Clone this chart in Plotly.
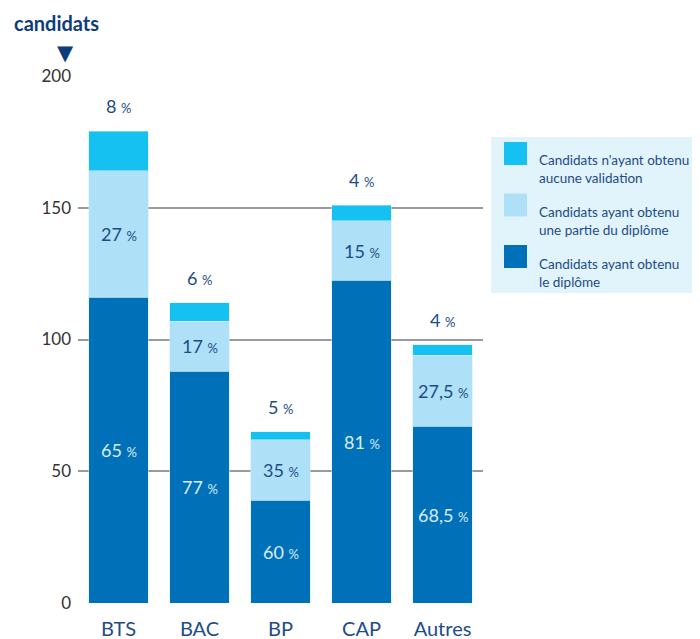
import plotly.graph_objects as go

categories = ["BTS", "BAC", "BP", "CAP", "Autres"]
diplome = [116, 88, 39, 122.5, 67]
partie = [48, 19, 23, 22.5, 27]
aucune = [15, 7, 3, 6, 4]
pct_diplome = ["65", "77", "60", "81", "68,5"]
pct_partie = ["27", "17", "35", "15", "27,5"]
pct_aucune = ["8", "6", "5", "4", "4"]
legend_labels = ["Candidats n'ayant obtenu<br>aucune validation",
                 "Candidats ayant obtenu<br>une partie du diplôme",
                 "Candidats ayant obtenu<br>le diplôme"]

c_dark = "#0070b9"
c_light = "#aee0f8"
c_cyan = "#15c1f1"
txt_blue = "#1e4c86"
font = "Lato"

fig = go.Figure()
for vals, col in [(diplome, c_dark), (partie, c_light), (aucune, c_cyan)]:
    fig.add_trace(go.Bar(x=categories, y=vals, marker_color=col,
                         marker_line=dict(width=1, color="rgba(210,235,250,0.5)"),
                         showlegend=False))

def pct(s):
    return s + " <span style='font-size:13px'>%</span>"

for i, cat in enumerate(categories):
    d, p, a = diplome[i], partie[i], aucune[i]
    fig.add_annotation(x=cat, y=d / 2, text=pct(pct_diplome[i]), showarrow=False,
                       font=dict(family=font, size=18, color="#d8ecf8"))
    fig.add_annotation(x=cat, y=d + p / 2, text=pct(pct_partie[i]), showarrow=False,
                       font=dict(family=font, size=18, color=txt_blue))
    fig.add_annotation(x=cat, y=d + p + a, yshift=12, yanchor="bottom",
                       text=pct(pct_aucune[i]), showarrow=False,
                       font=dict(family=font, size=18, color=txt_blue))

# title + arrow
fig.add_annotation(xref="paper", yref="paper", x=-0.162, y=1.128, xanchor="left",
                   text="<b>candidats</b>", showarrow=False,
                   font=dict(family=font, size=20, color="#0d3d7a"))
fig.add_annotation(xref="paper", yref="paper", x=-0.057, y=1.07,
                   text="▼", showarrow=False,
                   font=dict(family="DejaVu Sans", size=21, color="#0d3d7a"))

# legend box drawn by hand
fig.add_shape(type="rect", xref="paper", yref="paper", x0=(491 - 78) / 405, x1=1.54,
              y0=(603 - 293) / 527, y1=(603 - 137) / 527,
              fillcolor="#e1f3fb", line_width=0, layer="below")
for k, (lab, col) in enumerate(zip(legend_labels, [c_cyan, c_light, c_dark])):
    top = 142 + k * 51.5
    fig.add_shape(type="rect", xref="paper", yref="paper",
                  x0=(504 - 78) / 405, x1=(527 - 78) / 405,
                  y0=(603 - top - 23) / 527, y1=(603 - top) / 527,
                  fillcolor=col, line_width=0)
    fig.add_annotation(xref="paper", yref="paper", x=(537 - 78) / 405,
                       y=(603 - top - 27.5) / 527, xanchor="left", yanchor="middle",
                       align="left", text=lab, showarrow=False,
                       font=dict(family=font, size=13.5, color=txt_blue))

# page body has an 8px margin, so the figure is a bit smaller
fig.update_layout(
    barmode="stack", bargap=0.27,
    width=692, height=631,
    margin=dict(l=70, r=217, t=68, b=36, autoexpand=False),
    plot_bgcolor="white", paper_bgcolor="white",
    font=dict(family=font),
)
fig.update_xaxes(showgrid=False, showline=False, ticks="", automargin=False,
                 ticklabelstandoff=12,
                 tickfont=dict(family=font, size=20, color=txt_blue))
fig.update_yaxes(range=[0, 200], tickvals=[0, 50, 100, 150, 200],
                 showgrid=True, gridcolor="#9a9a9a", gridwidth=1.5,
                 zeroline=False, layer="above traces", showline=False,
                 ticklabelstandoff=6, automargin=False,
                 tickfont=dict(family=font, size=17, color="#333333"))

fig.write_html("out.html")
